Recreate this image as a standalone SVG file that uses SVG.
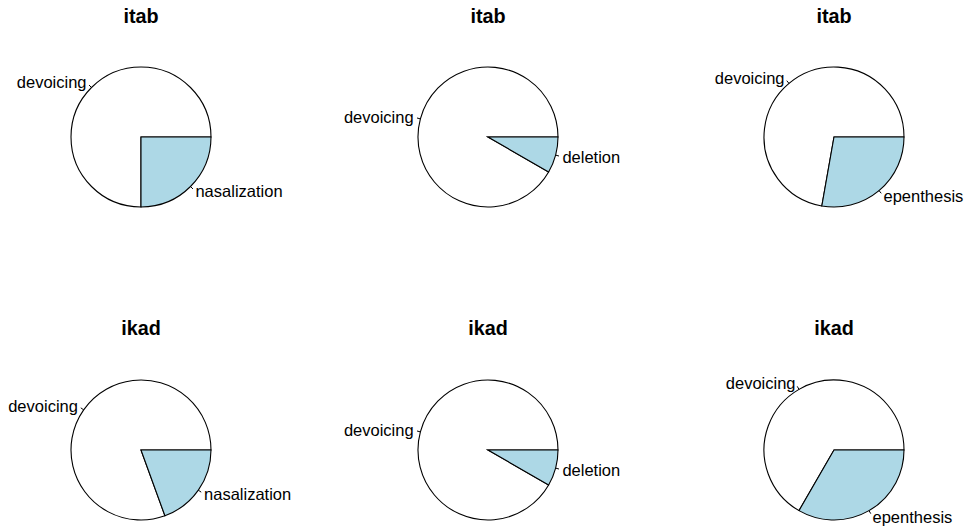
<svg xmlns="http://www.w3.org/2000/svg" width="964" height="529" viewBox="0 0 964 529">
<style>
.bg{fill:#ffffff}
.title{font-family:"Liberation Sans",Arial,sans-serif;font-weight:bold;font-size:19.8px;fill:#000;text-anchor:middle}
.lab{font-family:"Liberation Sans",Arial,sans-serif;font-size:16.5px;fill:#000}
.end{text-anchor:end}
.start{text-anchor:start}
.w{fill:#ffffff;stroke:#000;stroke-width:1.1}
.b{fill:#ADD8E6;stroke:#000;stroke-width:1.1}
.tick{stroke:#000;stroke-width:1;fill:none}
</style>
<rect class="bg" x="0" y="0" width="964" height="529"/>

<g id="pie-itab-1">
<text class="title" x="141" y="23">itab</text>
<path class="w" d="M141,137 L211,137 A70,70 0 1 0 141,207 Z"/>
<path class="b" d="M141,137 L141,207 A70,70 0 0 0 211,137 Z"/>
<line class="tick" x1="91.5" y1="87.5" x2="89.03" y2="85.03"/>
<line class="tick" x1="190.5" y1="186.5" x2="192.97" y2="188.97"/>
<text class="lab end" x="86.55" y="88">devoicing</text>
<text class="lab start" x="195.45" y="197">nasalization</text>
</g>

<g id="pie-itab-2">
<text class="title" x="488" y="23">itab</text>
<path class="w" d="M488,137 L558,137 A70,70 0 1 0 548.62,172 Z"/>
<path class="b" d="M488,137 L548.62,172 A70,70 0 0 0 558,137 Z"/>
<line class="tick" x1="420.39" y1="118.88" x2="417.01" y2="117.98"/>
<line class="tick" x1="555.61" y1="155.12" x2="558.99" y2="156.02"/>
<text class="lab end" x="413.62" y="122.5">devoicing</text>
<text class="lab start" x="562.38" y="162.5">deletion</text>
</g>

<g id="pie-itab-3">
<text class="title" x="834" y="23">itab</text>
<path class="w" d="M834,137 L904,137 A70,70 0 1 0 821.84,205.94 Z"/>
<path class="b" d="M834,137 L821.84,205.94 A70,70 0 0 0 904,137 Z"/>
<line class="tick" x1="789" y1="83.38" x2="786.75" y2="80.7"/>
<line class="tick" x1="879" y1="190.62" x2="881.25" y2="193.3"/>
<text class="lab end" x="784.51" y="83.5">devoicing</text>
<text class="lab start" x="883.49" y="201.5">epenthesis</text>
</g>

<g id="pie-ikad-1">
<text class="title" x="141" y="335">ikad</text>
<path class="w" d="M141,450 L211,450 A70,70 0 1 0 164.94,515.78 Z"/>
<path class="b" d="M141,450 L164.94,515.78 A70,70 0 0 0 211,450 Z"/>
<line class="tick" x1="83.66" y1="409.85" x2="80.79" y2="407.84"/>
<line class="tick" x1="198.34" y1="490.15" x2="201.21" y2="492.16"/>
<text class="lab end" x="77.92" y="411.5">devoicing</text>
<text class="lab start" x="204.08" y="499.5">nasalization</text>
</g>

<g id="pie-ikad-2">
<text class="title" x="488" y="335">ikad</text>
<path class="w" d="M488,450 L558,450 A70,70 0 1 0 548.62,485 Z"/>
<path class="b" d="M488,450 L548.62,485 A70,70 0 0 0 558,450 Z"/>
<line class="tick" x1="420.39" y1="431.88" x2="417.01" y2="430.98"/>
<line class="tick" x1="555.61" y1="468.12" x2="558.99" y2="469.02"/>
<text class="lab end" x="413.62" y="435.5">devoicing</text>
<text class="lab start" x="562.38" y="475.5">deletion</text>
</g>

<g id="pie-ikad-3">
<text class="title" x="834" y="335">ikad</text>
<path class="w" d="M834,450 L904,450 A70,70 0 1 0 799,510.62 Z"/>
<path class="b" d="M834,450 L799,510.62 A70,70 0 0 0 904,450 Z"/>
<line class="tick" x1="799" y1="389.38" x2="797.25" y2="386.35"/>
<line class="tick" x1="869" y1="510.62" x2="870.75" y2="513.65"/>
<text class="lab end" x="795.5" y="388.5">devoicing</text>
<text class="lab start" x="872.5" y="522.5">epenthesis</text>
</g>
</svg>
